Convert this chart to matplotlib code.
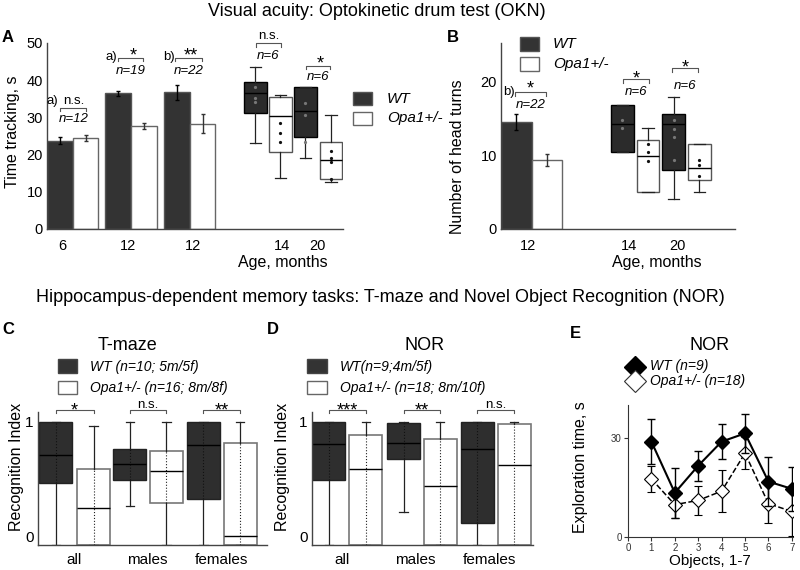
import matplotlib.pyplot as plt
from matplotlib.patches import Rectangle
from matplotlib.lines import Line2D

plt.rcParams['font.family'] = ['Liberation Sans', 'DejaVu Sans']

W, H = 800, 570
DARK = '#333333'

# ---------------- data ----------------
# A: optokinetic drum, time tracking (s)
okn_bar_wt = [23.7, 36.5, 36.7]
okn_bar_wt_err = [0.9, 0.7, 2.1]
okn_bar_opa = [24.4, 27.7, 28.3]
okn_bar_opa_err = [0.8, 0.8, 2.6]
# boxes: q1, median, q3, whisker low, whisker high
okn_box_wt = [(31.2, 36.5, 39.5, 23.1, 43.5), (24.6, 31.8, 38.2, 19.0, 38.2)]
okn_box_opa = [(20.7, 30.3, 35.4, 13.6, 36.1), (13.4, 18.5, 23.5, 12.6, 30.7)]
okn_pts_wt = [[38.3, 35.2, 34.1], [34.0, 30.7, 23.5]]
okn_pts_opa = [[28.5, 25.8, 23.3], [21.0, 19.0, 18.1, 13.5]]
okn_ticks = ['6', '12', '12', '14', '20']
okn_sig = ['n.s.', '*', '**', 'n.s.', '*']
okn_n = ['n=12', 'n=19', 'n=22', 'n=6', 'n=6']
okn_note = ['a)', 'a)', 'b)', '', '']

# B: number of head turns
head_bar_wt = [14.5]
head_bar_wt_err = [1.1]
head_bar_opa = [9.4]
head_bar_opa_err = [0.8]
head_box_wt = [(10.45, 14.3, 16.9, 10.45, 16.9), (8.0, 14.3, 15.6, 4.05, 18.0)]
head_box_opa = [(5.1, 9.9, 12.1, 5.1, 13.7), (6.7, 8.3, 11.6, 5.1, 11.6)]
head_pts_wt = [[14.8, 13.7], [14.8, 13.6, 12.5, 9.4]]
head_pts_opa = [[11.6, 10.5, 9.3], [9.4, 8.7, 7.2]]
head_ticks = ['12', '14', '20']
head_sig = ['*', '*', '*']
head_n = ['n=22', 'n=6', 'n=6']

# C / D: recognition index
groups = ['all', 'males', 'females']
tmaze_wt = [(0.505, 0.73, 1.0, 0.0, 1.0), (0.53, 0.66, 0.78, 0.32, 1.0), (0.37, 0.81, 1.0, 0.0, 1.0)]
tmaze_opa = [(0.0, 0.30, 0.615, 0.0, 0.97), (0.34, 0.60, 0.76, 0.0, 1.0), (0.0, 0.074, 0.83, 0.0, 1.0)]
tmaze_sig = ['*', 'n.s.', '**']
nor_wt = [(0.53, 0.82, 1.0, 0.0, 1.0), (0.70, 0.83, 0.99, 0.265, 1.0), (0.18, 0.78, 1.0, 0.0, 1.0)]
nor_opa = [(0.0, 0.62, 0.89, 0.0, 1.0), (0.0, 0.48, 0.86, 0.0, 1.0), (0.0, 0.65, 0.98, 0.0, 1.0)]
nor_sig = ['***', '**', 'n.s.']

# E: exploration time per object
objects = [1, 2, 3, 4, 5, 6, 7]
expl_wt = [28.9, 13.4, 21.6, 28.9, 31.4, 16.8, 14.6]
expl_wt_err = [6.8, 7.5, 4.5, 5.3, 5.8, 7.3, 6.7]
expl_opa = [17.6, 9.8, 11.1, 13.9, 25.4, 10.1, 7.75]
expl_opa_err = [4.0, 4.0, 4.4, 6.3, 4.8, 6.0, 7.3]


fig = plt.figure(figsize=(8, 5.7), dpi=100)


def rect(x0, y0, x1, y1):
    # pixel box, origin top-left -> figure fraction
    return [x0 / W, 1 - y1 / H, (x1 - x0) / W, (y1 - y0) / H]


def ftext(x, y, s, **kw):
    kw.setdefault('ha', 'center')
    kw.setdefault('va', 'center')
    fig.text(x / W, 1 - y / H, s, **kw)


def square(x0, y0, x1, y1, face, edge):
    fig.add_artist(Rectangle((x0 / W, 1 - y1 / H), (x1 - x0) / W, (y1 - y0) / H,
                             transform=fig.transFigure, facecolor=face, edgecolor=edge, lw=1))


def style(ax):
    for s in ['top', 'right']:
        ax.spines[s].set_visible(False)
    for s in ['left', 'bottom']:
        ax.spines[s].set_color('#444444')
        ax.spines[s].set_linewidth(1)
    ax.tick_params(length=0, labelsize=10.5, pad=3)


def boxes(ax, stats, pos, width, face, edge, capw, lw=1.0):
    st = [dict(q1=s[0], med=s[1], q3=s[2], whislo=s[3], whishi=s[4]) for s in stats]
    ax.bxp(st, positions=pos, widths=width, patch_artist=True, showfliers=False,
           manage_ticks=False, capwidths=capw,
           boxprops=dict(facecolor=face, edgecolor=edge, linewidth=lw),
           medianprops=dict(color='black', linewidth=1),
           whiskerprops=dict(color='#222222', linewidth=0.9),
           capprops=dict(color='#222222', linewidth=0.9))


def bracket(ax, x0, x1, y, h):
    ax.plot([x0, x0, x1, x1], [y - h, y, y, y - h], color='#555555', lw=0.8, clip_on=False)


# ---------------- A ----------------
axA = fig.add_axes(rect(47, 43, 343, 229))
style(axA)
bar_wt_x = [0.5, 2.79, 5.09]
bar_opa_x = [1.51, 3.79, 6.09]
axA.bar(bar_wt_x, okn_bar_wt, width=1.0, color=DARK, edgecolor='#555555', lw=1,
        yerr=okn_bar_wt_err, error_kw=dict(ecolor='black', elinewidth=1, capsize=1.5))
axA.bar(bar_opa_x, okn_bar_opa, width=1.0, color='white', edgecolor='#666666', lw=1,
        yerr=okn_bar_opa_err, error_kw=dict(ecolor='#333333', elinewidth=1, capsize=1.5))
box_wt_x = [8.16, 10.12]
box_opa_x = [9.14, 11.12]
boxes(axA, okn_box_wt, box_wt_x, 0.9, '#2b2b2b', 'black', 0.45)
boxes(axA, okn_box_opa, box_opa_x, 0.9, 'white', '#555555', 0.45)
for x, pts in zip(box_wt_x + box_opa_x, okn_pts_wt + okn_pts_opa):
    axA.plot([x] * len(pts), pts, 'o', ms=1.3, color='#111111' if x in box_opa_x else '#777777')
axA.set_xlim(0, 11.59)
axA.set_ylim(0, 50)
axA.set_yticks([0, 10, 20, 30, 40, 50])
axA.set_xticks([0.6, 3.18, 5.72, 9.19, 10.6])
axA.set_xticklabels(okn_ticks)
axA.tick_params(axis='x', pad=7)

sig_l = [0.52, 2.79, 5.02, 8.18, 10.13]
sig_r = [1.54, 3.77, 6.07, 9.15, 11.10]
sig_y = [32.5, 46.0, 46.0, 49.9, 43.8]
n_y = [29.6, 42.5, 42.5, 46.5, 40.9]
for i in range(5):
    bracket(axA, sig_l[i], sig_r[i], sig_y[i], 0.9)
    xc = (sig_l[i] + sig_r[i]) / 2
    if okn_sig[i] == 'n.s.':
        axA.text(xc + 0.02, sig_y[i] + 1.9, okn_sig[i], ha='center', va='center', fontsize=9.5, clip_on=False)
    else:
        axA.text(xc + 0.1, sig_y[i] + 0.6, okn_sig[i], ha='center', va='center', fontsize=13, clip_on=False)
    axA.text(xc, n_y[i], okn_n[i], ha='center', va='center', fontsize=9.5, style='italic', clip_on=False)
axA.text(0.2, 34.4, okn_note[0], ha='center', va='center', fontsize=9.5, clip_on=False)
axA.text(2.75, 46.2, okn_note[1], ha='right', va='center', fontsize=9.5, clip_on=False)
axA.text(5.0, 46.2, okn_note[2], ha='right', va='center', fontsize=9.5, clip_on=False)

ftext(13, 132, 'Time tracking, s', rotation=90, fontsize=11.5)
ftext(283, 263, 'Age, months', fontsize=11.5)
square(353, 92, 372, 105, DARK, '#555555')
square(353, 112, 372, 125, 'white', '#666666')
ftext(387, 99, 'WT', ha='left', fontsize=11, style='italic')
ftext(387, 118, 'Opa1+/-', ha='left', fontsize=11, style='italic')

# ---------------- B ----------------
axB = fig.add_axes(rect(501, 43, 735, 229))
style(axB)
axB.bar([0.5], head_bar_wt, width=1.0, color=DARK, edgecolor='#555555', lw=1,
        yerr=head_bar_wt_err, error_kw=dict(ecolor='black', elinewidth=1, capsize=1.5))
axB.bar([1.5], head_bar_opa, width=1.0, color='white', edgecolor='#666666', lw=1,
        yerr=head_bar_opa_err, error_kw=dict(ecolor='#333333', elinewidth=1, capsize=1.5))
hb_wt_x = [3.98, 5.66]
hb_opa_x = [4.82, 6.50]
boxes(axB, head_box_wt, hb_wt_x, 0.75, '#2b2b2b', 'black', 0.38)
boxes(axB, head_box_opa, hb_opa_x, 0.75, 'white', '#555555', 0.38)
for x, pts in zip(hb_wt_x + hb_opa_x, head_pts_wt + head_pts_opa):
    axB.plot([x] * len(pts), pts, 'o', ms=1.3, color='#111111' if x in hb_opa_x else '#777777')
axB.set_xlim(0, 7.67)
axB.set_ylim(0, 25.3)
axB.set_yticks([0, 10, 20])
axB.set_xticks([0.89, 4.2, 5.77])
axB.set_xticklabels(head_ticks)
axB.tick_params(axis='x', pad=7)
hs_l = [0.46, 4.0, 5.6]
hs_r = [1.48, 4.86, 6.47]
hs_y = [18.6, 20.4, 21.9]
hs_star = [19.1, 20.4, 21.9]
hn_y = [16.9, 18.6, 19.5]
for i in range(3):
    bracket(axB, hs_l[i], hs_r[i], hs_y[i], 0.5)
    xc = (hs_l[i] + hs_r[i]) / 2
    axB.text(xc, hs_star[i], head_sig[i], ha='center', va='center', fontsize=13, clip_on=False)
    axB.text(xc, hn_y[i], head_n[i], ha='center', va='center', fontsize=9.5, style='italic', clip_on=False)
axB.text(0.45, 18.6, 'b)', ha='right', va='center', fontsize=9.5, clip_on=False)

ftext(458, 157, 'Number of head turns', rotation=90, fontsize=11.5)
ftext(657, 262, 'Age, months', fontsize=11.5)
square(520, 37, 539, 51, DARK, '#555555')
square(520, 57, 539, 71, 'white', '#666666')
ftext(553, 44, 'WT', ha='left', fontsize=11, style='italic')
ftext(553, 64, 'Opa1+/-', ha='left', fontsize=11, style='italic')


# ---------------- C / D ----------------
def recog_panel(rect_px, wt, opa, sig, wt_x, opa_x, tick_x, xmax):
    ax = fig.add_axes(rect(*rect_px))
    style(ax)
    boxes(ax, wt, wt_x, 0.98, '#2e2e2e', '#222222', 0.25)
    boxes(ax, opa, opa_x, 0.98, 'white', '#777777', 0.25, lw=1.2)
    ax.vlines(wt_x, [s[0] for s in wt], [s[2] for s in wt], colors='#111111', lw=0.8, linestyles=':')
    ax.vlines(opa_x, [s[0] for s in opa], [s[2] for s in opa], colors='#222222', lw=0.8, linestyles=':')
    ax.set_xlim(0, xmax)
    ax.set_ylim(0, 1.08)
    ax.set_yticks([0, 1])
    ax.set_yticklabels(['0', '1'], fontsize=11)
    ax.get_yticklabels()[0].set_va('bottom')
    ax.set_xticks(tick_x)
    ax.set_xticklabels(groups, fontsize=11)
    ax.tick_params(axis='x', pad=6)
    for i in range(3):
        bracket(ax, wt_x[i], opa_x[i], 1.097, 0.025)
        xc = (wt_x[i] + opa_x[i]) / 2
        if sig[i] == 'n.s.':
            ax.text(xc, 1.14, sig[i], ha='center', va='center', fontsize=9.5, clip_on=False)
        else:
            ax.text(xc, 1.09, sig[i], ha='center', va='center', fontsize=13, clip_on=False)
    return ax


axC = recog_panel((38, 412, 267, 545), tmaze_wt, tmaze_opa, tmaze_sig,
                  [0.53, 2.73, 4.91], [1.65, 3.81, 6.0], [1.07, 3.26, 5.46], 6.8)
axD = recog_panel((312, 412, 533, 545), nor_wt, nor_opa, nor_sig,
                  [0.5, 2.72, 4.9], [1.6, 3.8, 6.0], [0.89, 3.06, 5.28], 6.56)

ftext(17, 467, 'Recognition Index', rotation=90, fontsize=11.5)
ftext(282, 467, 'Recognition Index', rotation=90, fontsize=11.5)
ftext(127, 345, 'T-maze', fontsize=13)
ftext(425, 345, 'NOR', fontsize=13)
square(58, 359, 77, 373, DARK, '#444444')
square(58, 381, 77, 394, 'white', '#666666')
ftext(90, 367, 'WT (n=10; 5m/5f)', ha='left', fontsize=10, style='italic')
ftext(90, 388, 'Opa1+/- (n=16; 8m/8f)', ha='left', fontsize=10, style='italic')
square(307, 359, 327, 373, DARK, '#444444')
square(307, 381, 327, 394, 'white', '#666666')
ftext(340, 367, 'WT(n=9;4m/5f)', ha='left', fontsize=10, style='italic')
ftext(340, 388, 'Opa1+/- (n=18; 8m/10f)', ha='left', fontsize=10, style='italic')

# ---------------- E ----------------
axE = fig.add_axes(rect(628, 405, 793, 537))
for s in ['top', 'right']:
    axE.spines[s].set_visible(False)
for s in ['left', 'bottom']:
    axE.spines[s].set_color('#333333')
axE.errorbar(objects, expl_opa, yerr=expl_opa_err, color='black', lw=1.1, ls='--',
             marker='D', ms=7, mfc='white', mec='black', mew=0.8, capsize=3, elinewidth=1, zorder=2)
axE.errorbar(objects, expl_wt, yerr=expl_wt_err, color='black', lw=1.5, ls='-',
             marker='D', ms=7, mfc='black', mec='black', capsize=3, elinewidth=1, zorder=3)
axE.set_xlim(0, 7.05)
axE.set_ylim(0, 40)
axE.set_xticks(range(8))
axE.set_yticks([0, 30])
axE.tick_params(labelsize=7, length=3, width=0.8, colors='#333333', pad=1.5)
ftext(580, 467, 'Exploration time, s', rotation=90, fontsize=11.5)
ftext(710, 561, 'Objects, 1-7', fontsize=11)
ftext(710, 345, 'NOR', fontsize=13)
fig.add_artist(Line2D([635 / W], [1 - 367 / H], marker='D', ms=11, mfc='black', mec='black',
                      transform=fig.transFigure))
fig.add_artist(Line2D([635 / W], [1 - 381 / H], marker='D', ms=11, mfc='white', mec='#333333', mew=0.8,
                      transform=fig.transFigure))
ftext(650, 366, 'WT (n=9)', ha='left', fontsize=10, style='italic')
ftext(650, 381, 'Opa1+/- (n=18)', ha='left', fontsize=10, style='italic')

# ---------------- titles & letters ----------------
ftext(377, 12, 'Visual acuity: Optokinetic drum test (OKN)', fontsize=13)
ftext(380, 298, 'Hippocampus-dependent memory tasks: T-maze and Novel Object Recognition (NOR)', fontsize=13)
for lab, x, y in [('A', 8, 38), ('B', 453, 38), ('C', 8, 330), ('D', 273, 330), ('E', 575, 334)]:
    ftext(x, y, lab, fontsize=12, fontweight='bold')

fig.savefig('out.png', dpi=100)
